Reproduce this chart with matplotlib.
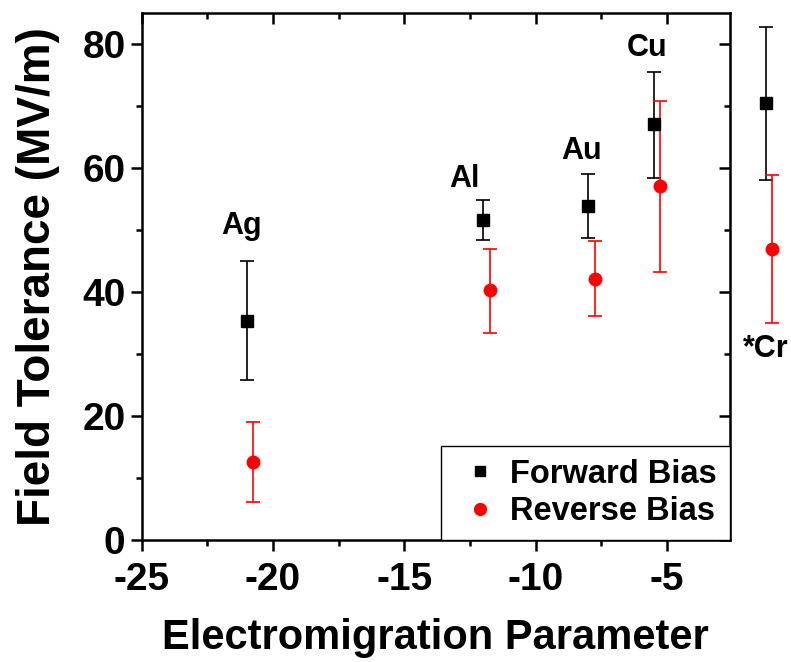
import matplotlib

matplotlib.use("Agg")
import matplotlib.pyplot as plt
from matplotlib.lines import Line2D
from matplotlib.ticker import MultipleLocator

plt.rcParams["font.family"] = ["Liberation Sans", "DejaVu Sans"]
plt.rcParams["font.weight"] = "bold"
plt.rcParams["axes.unicode_minus"] = False

# electromigration parameter (x) for each metal
metals = ["Ag", "Al", "Au", "Cu", "*Cr"]
x_fwd = [-21.0, -12.0, -8.0, -5.5, -1.25]
x_rev = [-20.75, -11.75, -7.75, -5.25, -1.0]

# field tolerance (MV/m) with asymmetric error bars
fwd = [35.4, 51.7, 53.9, 67.1, 70.5]
fwd_lo = [25.8, 48.5, 48.7, 58.5, 58.1]
fwd_hi = [45.0, 54.8, 59.1, 75.6, 82.8]

rev = [12.6, 40.3, 42.1, 57.1, 47.0]
rev_lo = [6.2, 33.4, 36.1, 43.3, 35.1]
rev_hi = [19.1, 46.9, 48.3, 70.9, 58.9]

# label anchor positions (data coords)
lab_x = [-21.2, -12.7, -8.25, -5.75, -1.25]
lab_y = [50.7, 58.3, 62.8, 79.4, 30.9]

fig = plt.figure(figsize=(7.91, 6.62), dpi=100)
ax = fig.add_axes([0.179, 0.184, 0.744, 0.796])

ekw = dict(capsize=5, elinewidth=1.2, capthick=1.2, linestyle="none")
f = ax.errorbar(x_fwd, fwd,
                yerr=[[v - l for v, l in zip(fwd, fwd_lo)], [h - v for v, h in zip(fwd, fwd_hi)]],
                marker="s", ms=8, color="black", ecolor="black", **ekw)
r = ax.errorbar(x_rev, rev,
                yerr=[[v - l for v, l in zip(rev, rev_lo)], [h - v for v, h in zip(rev, rev_hi)]],
                marker="o", ms=9, color="red", ecolor="red", **ekw)
# the Cr points sit outside the frame
for art in [f.lines[0], r.lines[0]] + list(f.lines[1]) + list(f.lines[2]) + list(r.lines[1]) + list(r.lines[2]):
    art.set_clip_on(False)

for name, lx, ly in zip(metals, lab_x, lab_y):
    ax.text(lx, ly, name, ha="center", va="center", fontsize=22, fontweight="bold",
            clip_on=False)

ax.set_xlim(-25, -2.6)
ax.set_ylim(0, 85)
ax.xaxis.set_major_locator(MultipleLocator(5))
ax.xaxis.set_minor_locator(MultipleLocator(2.5))
ax.yaxis.set_major_locator(MultipleLocator(20))
ax.yaxis.set_minor_locator(MultipleLocator(10))

for s in ax.spines.values():
    s.set_linewidth(1.8)

ax.tick_params(which="both", width=1.8, labelsize=28, direction="out", top=True, right=True)
ax.tick_params(which="major", length=8)
ax.tick_params(which="minor", length=4)
ax.tick_params(axis="x", which="major", pad=8)
# top and right ticks point inward
for tick in ax.xaxis.get_major_ticks() + ax.xaxis.get_minor_ticks():
    tick.tick2line.set_marker(3)
for tick in ax.yaxis.get_major_ticks() + ax.yaxis.get_minor_ticks():
    tick.tick2line.set_marker(0)

ax.set_xlabel("Electromigration Parameter", fontsize=30, fontweight="bold", labelpad=14)
ax.set_ylabel("Field Tolerance (MV/m)", fontsize=33, fontweight="bold", labelpad=16)

handles = [
    Line2D([], [], marker="s", ms=7, color="black", linestyle="none", label="Forward Bias"),
    Line2D([], [], marker="o", ms=8.5, color="red", linestyle="none", label="Reverse Bias"),
]
leg = ax.legend(handles=handles, loc="lower right", fontsize=23.5, frameon=True, fancybox=False,
                edgecolor="black", framealpha=1, borderaxespad=0, handlelength=1.6,
                handletextpad=0.12, borderpad=0.4, labelspacing=0.2)
leg.get_frame().set_linewidth(1.0)

fig.savefig("out.png", dpi=100)
